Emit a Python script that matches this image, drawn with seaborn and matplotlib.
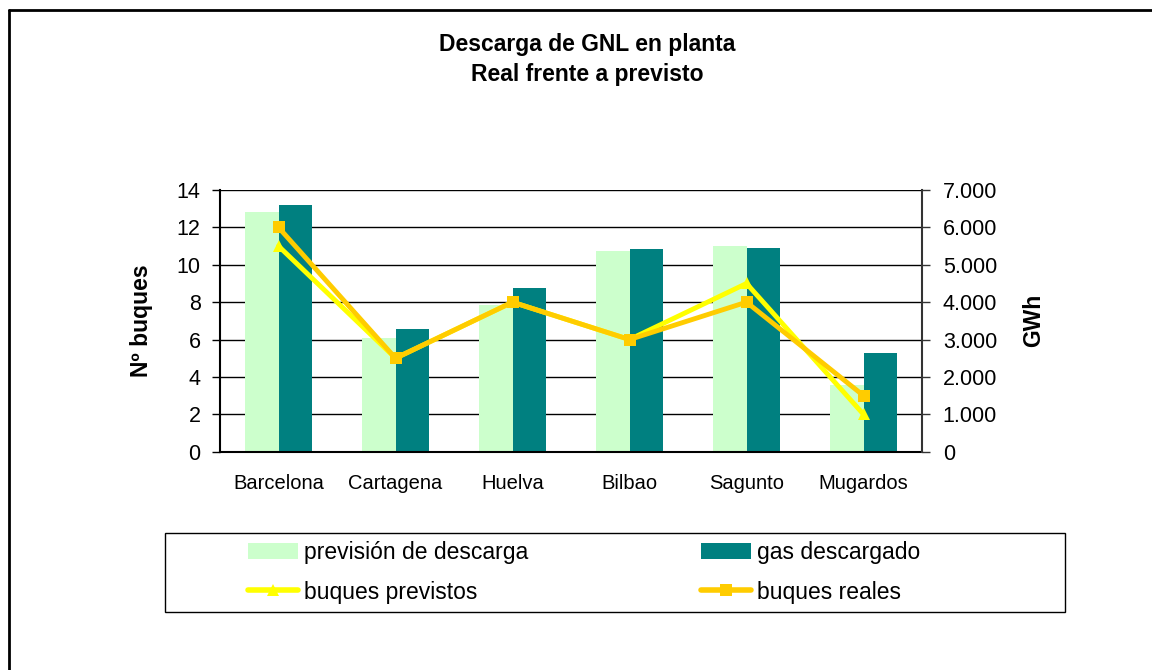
import numpy as np
import pandas as pd
import matplotlib
matplotlib.use("Agg")
import matplotlib.pyplot as plt
from matplotlib.lines import Line2D
from matplotlib.patches import Patch, Rectangle
from matplotlib.ticker import FuncFormatter, MultipleLocator
import seaborn as sns

# data
plantas = ["Barcelona", "Cartagena", "Huelva", "Bilbao", "Sagunto", "Mugardos"]
prevision_gwh = [6400, 3040, 3920, 5360, 5500, 1780]
descargado_gwh = [6600, 3280, 4380, 5420, 5450, 2640]
buques_previstos = [11, 5, 8, 6, 9, 2]
buques_reales = [12, 5, 8, 6, 8, 3]

serie_barras = ["previsión de descarga", "gas descargado"]
serie_lineas = ["buques previstos", "buques reales"]

c_prev = "#CCFFCC"
c_desc = "#008080"
c_bprev = "#FFFF00"
c_breal = "#FFCC00"

sns.set_theme(style="white")
plt.rcParams["font.family"] = ["Liberation Sans", "DejaVu Sans"]
plt.rcParams.update({"text.color": "black", "axes.labelcolor": "black",
                     "xtick.color": "black", "ytick.color": "black"})

bars = pd.DataFrame({
    "planta": plantas * 2,
    "gwh": prevision_gwh + descargado_gwh,
    "serie": [serie_barras[0]] * len(plantas) + [serie_barras[1]] * len(plantas),
})

fig = plt.figure(figsize=(11.52, 6.70), dpi=100)
ax_bar = fig.add_axes([220 / 1152, 1 - 451.7 / 670, 702 / 1152, 261.7 / 670])
ax_line = ax_bar.twinx()

# bars on the GWh axis (drawn first, so behind the lines)
sns.barplot(data=bars, x="planta", y="gwh", hue="serie", order=plantas,
            hue_order=serie_barras, palette=[c_prev, c_desc], saturation=1,
            width=0.57, errorbar=None, linewidth=0, legend=False, ax=ax_bar)

# lines on the buques axis
sns.pointplot(x=plantas, y=buques_previstos, order=plantas, color=c_bprev,
              markers="^", linestyles="-", linewidth=3.5, markersize=9,
              markeredgewidth=0, ax=ax_line)
sns.pointplot(x=plantas, y=buques_reales, order=plantas, color=c_breal,
              markers="s", linestyles="-", linewidth=3.5, markersize=8.5,
              markeredgewidth=0, ax=ax_line)

# swap sides: buques left, GWh right
ax_line.yaxis.tick_left()
ax_line.yaxis.set_label_position("left")
ax_bar.yaxis.tick_right()
ax_bar.yaxis.set_label_position("right")

ax_bar.set_ylim(0, 7000)
ax_bar.yaxis.set_major_locator(MultipleLocator(1000))
ax_bar.yaxis.set_major_formatter(FuncFormatter(lambda v, p: f"{int(v):,}".replace(",", ".")))
ax_line.set_ylim(0, 14)
ax_line.yaxis.set_major_locator(MultipleLocator(2))

ax_bar.set_xlim(-0.5, len(plantas) - 0.5)
ax_bar.set_xticks(range(len(plantas)))
ax_bar.set_xticklabels(plantas)
ax_bar.set_xticks(np.arange(-0.5, len(plantas)), minor=True)
ax_bar.tick_params(axis="x", which="major", length=0, pad=16, labelsize=14.5, colors="black")
ax_bar.tick_params(axis="x", which="minor", length=5, width=1, color="black", direction="out")
ax_line.tick_params(axis="x", which="both", length=0, labelbottom=False, labeltop=False)

ax_line.tick_params(axis="y", left=True, right=False, length=6, width=1, color="black",
                    direction="out", labelsize=15.5, pad=8, labelleft=True, labelright=False)
ax_bar.tick_params(axis="y", right=True, left=False, length=6, width=1, color="#333333",
                   direction="out", labelsize=15.5, pad=9, labelright=True, labelleft=False)

ax_bar.yaxis.grid(True, color="black", linewidth=1)
ax_bar.set_axisbelow(True)
ax_bar.xaxis.grid(False)
ax_line.grid(False)

ax_bar.set_xlabel("")
ax_line.set_xlabel("")
ax_line.set_ylabel("Nº buques", fontsize=16.5, fontweight="bold")
ax_line.yaxis.set_label_coords(-0.0954, 0.5)
ax_bar.set_ylabel("GWh", fontsize=16.5, fontweight="bold", rotation=90)
ax_bar.yaxis.set_label_coords(1.1425, 0.5)

for a in (ax_bar, ax_line):
    a.patch.set_visible(False)
    for s in a.spines.values():
        s.set_visible(False)
ax_line.spines["left"].set_visible(True)
ax_line.spines["left"].set_color("black")
ax_line.spines["left"].set_linewidth(1.5)
ax_line.spines["right"].set_visible(True)
ax_line.spines["right"].set_color("#333333")
ax_line.spines["right"].set_linewidth(1.5)
ax_bar.spines["bottom"].set_visible(True)
ax_bar.spines["bottom"].set_color("black")
ax_bar.spines["bottom"].set_linewidth(1.5)

# title
fig.text(587 / 1152, 1 - 44 / 670, "Descarga de GNL en planta", ha="center", va="center",
         fontsize=16.5, fontweight="bold")
fig.text(587 / 1152, 1 - 75 / 670, "Real frente a previsto", ha="center", va="center",
         fontsize=16.5, fontweight="bold")

# legend: entries without frame, box drawn separately
handles = [
    Patch(facecolor=c_prev, edgecolor="none", label=serie_barras[0]),
    Line2D([], [], color=c_bprev, lw=4, marker="^", markersize=9, markeredgewidth=0, label=serie_lineas[0]),
    Patch(facecolor=c_desc, edgecolor="none", label=serie_barras[1]),
    Line2D([], [], color=c_breal, lw=4, marker="s", markersize=8, markeredgewidth=0, label=serie_lineas[1]),
]
fig.legend(handles=handles, ncol=2, loc="center left",
           bbox_to_anchor=(248 / 1152, 1 - 572.5 / 670),
           frameon=False, fontsize=16.5, handlelength=2.18, handleheight=0.7,
           handletextpad=0.26, columnspacing=7.55, labelspacing=0.7,
           borderpad=0, borderaxespad=0)
fig.add_artist(Rectangle((165 / 1152, 1 - 612 / 670), 900 / 1152, 79 / 670,
                         transform=fig.transFigure, fill=False, edgecolor="black", lw=1))

# outer chart border (only top and left visible in the crop)
fig.add_artist(Line2D([9 / 1152, 9 / 1152], [0, 1 - 10 / 670], color="black", lw=2,
                      transform=fig.transFigure))
fig.add_artist(Line2D([9 / 1152, 1], [1 - 10 / 670, 1 - 10 / 670], color="black", lw=2,
                      transform=fig.transFigure))

fig.savefig("out.png", dpi=100)
